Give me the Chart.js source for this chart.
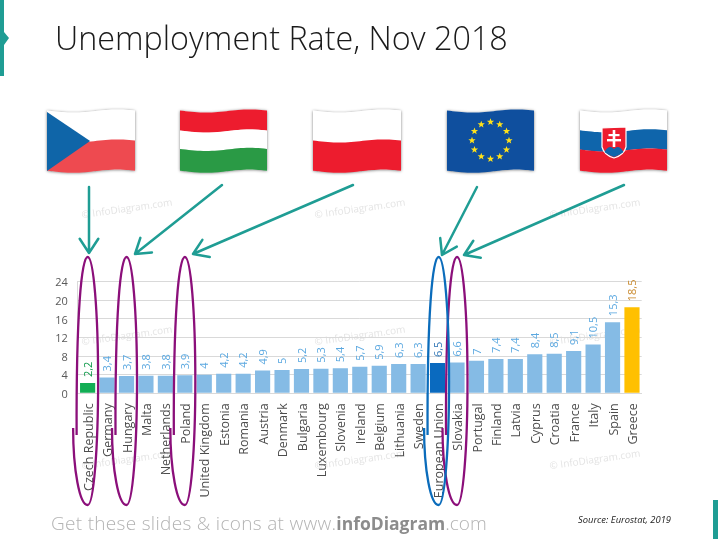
<!DOCTYPE html>
<html>
<head>
    <meta charset="UTF-8">
    <title>Unemployment Rate, Nov 2018</title>
    <style>
        html, body { margin: 0; padding: 0; background: #fff; }
        canvas { display: block; }
    </style>
    <script src="https://cdnjs.cloudflare.com/ajax/libs/Chart.js/4.4.1/chart.umd.min.js"></script>
</head>
<body>
    <canvas id="chart" width="718" height="539"></canvas>

    <script>
        const countries = ['Czech Republic', 'Germany', 'Hungary', 'Malta', 'Netherlands', 'Poland',
            'United Kingdom', 'Estonia', 'Romania', 'Austria', 'Denmark', 'Bulgaria', 'Luxembourg',
            'Slovenia', 'Ireland', 'Belgium', 'Lithuania', 'Sweden', 'European Union', 'Slovakia',
            'Portugal', 'Finland', 'Latvia', 'Cyprus', 'Croatia', 'France', 'Italy', 'Spain', 'Greece'];
        const rates = [2.2, 3.4, 3.7, 3.8, 3.8, 3.9, 4, 4.2, 4.2, 4.9, 5, 5.2, 5.3, 5.4, 5.7, 5.9,
            6.3, 6.3, 6.5, 6.6, 7, 7.4, 7.4, 8.4, 8.5, 9.1, 10.5, 15.3, 18.5];
        const yTicks = [0, 4, 8, 12, 16, 20, 24];

        const TEAL = '#1f9d94';
        const PURPLE = '#8b0f7a';
        const EU_BLUE = '#0b6cbb';

        function barColor(name) {
            if (name === 'Czech Republic') return '#12ad54';
            if (name === 'European Union') return '#0a6abf';
            if (name === 'Greece') return '#ffc000';
            return '#85bbe5';
        }
        function labelColor(name) {
            if (name === 'Czech Republic') return '#0f9a4a';
            if (name === 'European Union') return '#2f75b5';
            if (name === 'Greece') return '#c98a2e';
            return '#5ba8e0';
        }

        // flag helpers - each flag is a set of bands on a wavy sheet
        function waveY(t) {
            return 1.6 * Math.sin(t * Math.PI * 2 - 0.31);
        }
        function sheetPath(ctx, x, y, w, h, v0, v1) {
            ctx.beginPath();
            for (let i = 0; i <= 30; i++) {
                const t = i / 30;
                ctx.lineTo(x + t * w, y + v0 * h + waveY(t));
            }
            for (let i = 30; i >= 0; i--) {
                const t = i / 30;
                ctx.lineTo(x + t * w, y + v1 * h + waveY(t));
            }
            ctx.closePath();
        }
        function drawBands(ctx, f, bands) {
            bands.forEach(function (b) {
                ctx.fillStyle = b[2];
                sheetPath(ctx, f.x, f.y, f.w, f.h, b[0], b[1] + 0.003);
                ctx.fill();
            });
        }
        function flagShadow(ctx, f) {
            ctx.save();
            ctx.shadowColor = 'rgba(0,0,0,0.55)';
            ctx.shadowBlur = 3;
            ctx.shadowOffsetY = 0.5;
            ctx.fillStyle = '#fff';
            sheetPath(ctx, f.x, f.y, f.w, f.h, 0, 1);
            ctx.fill();
            ctx.restore();
        }
        function star(ctx, cx, cy, r) {
            ctx.beginPath();
            for (let i = 0; i < 10; i++) {
                const rr = i % 2 ? r * 0.42 : r;
                const a = -Math.PI / 2 + i * Math.PI / 5;
                ctx.lineTo(cx + rr * Math.cos(a), cy + rr * Math.sin(a));
            }
            ctx.closePath();
            ctx.fill();
        }

        function drawCzech(ctx, f) {
            flagShadow(ctx, f);
            drawBands(ctx, f, [[0, 0.5, '#ffffff'], [0.5, 1, '#ee4a50']]);
            ctx.fillStyle = '#0f65a8';
            ctx.beginPath();
            ctx.moveTo(f.x, f.y + 1);
            ctx.lineTo(f.x + f.w * 0.49, f.y + f.h * 0.5);
            ctx.lineTo(f.x, f.y + f.h);
            ctx.closePath();
            ctx.fill();
        }
        function drawHungary(ctx, f) {
            flagShadow(ctx, f);
            drawBands(ctx, f, [[0, 0.333, '#ed1c2e'], [0.333, 0.64, '#ffffff'], [0.64, 1, '#2a9a45']]);
        }
        function drawPoland(ctx, f) {
            flagShadow(ctx, f);
            drawBands(ctx, f, [[0, 0.5, '#ffffff'], [0.5, 1, '#ed1c2e']]);
        }
        function drawEU(ctx, f) {
            flagShadow(ctx, f);
            drawBands(ctx, f, [[0, 1, '#0f4f9e']]);
            ctx.fillStyle = '#ffe11a';
            const cx = f.x + f.w * 0.5, cy = f.y + f.h * 0.5;
            for (let i = 0; i < 12; i++) {
                const a = i * Math.PI / 6;
                star(ctx, cx + 18.5 * Math.sin(a), cy - 0.5 - 18.5 * Math.cos(a), 3.8);
            }
        }
        function drawSlovakia(ctx, f) {
            flagShadow(ctx, f);
            drawBands(ctx, f, [[0, 0.33, '#ffffff'], [0.33, 0.65, '#0f65ab'], [0.65, 1, '#ed1c2e']]);
            // coat of arms
            const sx = f.x + 22, sy = f.y + 16;
            ctx.beginPath();
            ctx.moveTo(sx, sy + 1);
            ctx.lineTo(sx + 24, sy);
            ctx.lineTo(sx + 24, sy + 20);
            ctx.quadraticCurveTo(sx + 22, sy + 28, sx + 12, sy + 31);
            ctx.quadraticCurveTo(sx + 2, sy + 28, sx, sy + 20);
            ctx.closePath();
            ctx.fillStyle = '#ed1c2e';
            ctx.fill();
            ctx.strokeStyle = '#ffffff';
            ctx.lineWidth = 1.2;
            ctx.stroke();
            ctx.fillStyle = '#ffffff';
            ctx.fillRect(sx + 10.7, sy + 3, 2.6, 17);
            ctx.fillRect(sx + 6.5, sy + 7, 11, 2.2);
            ctx.fillRect(sx + 5, sy + 12, 14, 2.4);
            ctx.fillStyle = '#0f65ab';
            ctx.beginPath();
            ctx.moveTo(sx + 2.5, sy + 25);
            ctx.quadraticCurveTo(sx + 7, sy + 17, sx + 12, sy + 22);
            ctx.quadraticCurveTo(sx + 17, sy + 17, sx + 21.5, sy + 25);
            ctx.quadraticCurveTo(sx + 18, sy + 28, sx + 12, sy + 30);
            ctx.quadraticCurveTo(sx + 6, sy + 28, sx + 2.5, sy + 25);
            ctx.fill();
        }

        function arrow(ctx, x0, y0, x1, y1) {
            const a = Math.atan2(y1 - y0, x1 - x0);
            ctx.strokeStyle = TEAL;
            ctx.lineWidth = 2.5;
            ctx.lineCap = 'round';
            ctx.lineJoin = 'round';
            ctx.beginPath();
            ctx.moveTo(x0, y0);
            ctx.lineTo(x1, y1);
            ctx.moveTo(x1 - 17 * Math.cos(a - 0.58), y1 - 17 * Math.sin(a - 0.58));
            ctx.lineTo(x1, y1);
            ctx.lineTo(x1 - 17 * Math.cos(a + 0.58), y1 - 17 * Math.sin(a + 0.58));
            ctx.stroke();
        }

        // hand drawn loop round a category label, open on the left side
        function loop(ctx, cx, color) {
            const top = 257, bottom = 505, mid = 381, rx = 10.5;
            ctx.strokeStyle = color;
            ctx.lineWidth = 2.3;
            ctx.lineCap = 'butt';
            ctx.beginPath();
            ctx.moveTo(cx - rx - 0.5, 435);
            ctx.bezierCurveTo(cx - rx - 1, 313, cx - 6, top, cx, top);
            ctx.bezierCurveTo(cx + 6, top, cx + rx, 313, cx + rx, mid);
            ctx.bezierCurveTo(cx + rx, 449, cx + 6, bottom, cx, bottom);
            ctx.bezierCurveTo(cx - 8, bottom, cx - rx - 4, 470, cx - rx - 4, 428);
            ctx.stroke();
        }

        const decorPlugin = {
            id: 'decor',
            beforeDraw(chart) {
                const ctx = chart.ctx;
                ctx.save();
                ctx.fillStyle = '#fff';
                ctx.fillRect(0, 0, 718, 539);
                // slide corner marks
                ctx.fillStyle = TEAL;
                ctx.beginPath();
                ctx.moveTo(0, 0);
                ctx.lineTo(4, 0);
                ctx.lineTo(4, 32);
                ctx.lineTo(9, 38);
                ctx.lineTo(4, 45);
                ctx.lineTo(4, 76);
                ctx.lineTo(0, 76);
                ctx.closePath();
                ctx.fill();
                ctx.fillRect(713, 500, 5, 39);

                // watermarks
                ctx.font = '10px "Open Sans"';
                ctx.fillStyle = '#e4e4e4';
                ctx.textAlign = 'center';
                ctx.textBaseline = 'middle';
                [[127, 209], [360, 209], [595, 209], [127, 336], [360, 336], [595, 336], [127, 460], [360, 460], [595, 460]].forEach(function (p) {
                    ctx.save();
                    ctx.translate(p[0], p[1]);
                    ctx.rotate(-0.14);
                    ctx.fillText('© InfoDiagram.com', 0, 0);
                    ctx.restore();
                });

                // title
                ctx.textAlign = 'left';
                ctx.textBaseline = 'alphabetic';
                ctx.fillStyle = '#1a1a1a';
                ctx.font = '300 32.3px "Open Sans"';
                ctx.fillText('Unemployment Rate, Nov 2018', 55, 50);

                // footer
                ctx.fillStyle = '#b3b3b3';
                ctx.font = '300 19px "Open Sans"';
                ctx.letterSpacing = '0.3px';
                let fx = 51;
                const p1 = 'Get these slides & icons at www.';
                ctx.fillText(p1, fx, 530);
                fx += ctx.measureText(p1).width;
                ctx.letterSpacing = '0px';
                ctx.fillStyle = '#8c8c8c';
                ctx.font = '700 17.5px "Open Sans"';
                ctx.fillText('infoDiagram', fx, 530);
                fx += ctx.measureText('infoDiagram').width;
                ctx.fillStyle = '#b3b3b3';
                ctx.font = '300 19px "Open Sans"';
                ctx.fillText('.com', fx, 530);

                ctx.fillStyle = '#222';
                ctx.font = 'italic 9.4px "Open Sans"';
                ctx.fillText('Source: Eurostat, 2019', 578, 523);

                // flags
                drawCzech(ctx, { x: 47, y: 111, w: 88, h: 60 });
                drawHungary(ctx, { x: 180, y: 111, w: 87, h: 60 });
                drawPoland(ctx, { x: 313, y: 111, w: 88, h: 60 });
                drawEU(ctx, { x: 447, y: 111, w: 87, h: 60 });
                drawSlovakia(ctx, { x: 580, y: 111, w: 87, h: 60 });
                ctx.restore();
            },
            afterDatasetsDraw(chart) {
                const ctx = chart.ctx;
                const meta = chart.getDatasetMeta(0);
                ctx.save();
                ctx.font = '11px "Open Sans"';
                ctx.textAlign = 'left';
                ctx.textBaseline = 'middle';
                meta.data.forEach(function (bar, i) {
                    ctx.save();
                    ctx.translate(bar.x + 1, bar.y - 6);
                    ctx.rotate(-Math.PI / 2);
                    ctx.fillStyle = labelColor(countries[i]);
                    ctx.fillText(String(rates[i]).replace('.', ','), 0, 0);
                    ctx.restore();
                });
                ctx.restore();
            },
            afterDraw(chart) {
                const ctx = chart.ctx;
                const x = chart.scales.x;
                ctx.save();
                ['Czech Republic', 'Hungary', 'Poland', 'Slovakia'].forEach(function (name) {
                    loop(ctx, x.getPixelForValue(countries.indexOf(name)), PURPLE);
                });
                loop(ctx, x.getPixelForValue(countries.indexOf('European Union')) + 1, EU_BLUE);
                arrow(ctx, 89, 187, 89, 253);
                arrow(ctx, 222, 185, 135, 254);
                arrow(ctx, 353, 185, 193, 254);
                arrow(ctx, 477, 187, 442, 255);
                arrow(ctx, 624, 185, 464, 255);
                ctx.restore();
            }
        };

        new Chart(document.getElementById('chart').getContext('2d'), {
            type: 'bar',
            data: {
                labels: countries,
                datasets: [{
                    data: rates,
                    backgroundColor: countries.map(barColor),
                    barPercentage: 1,
                    categoryPercentage: 0.78
                }]
            },
            plugins: [decorPlugin],
            options: {
                responsive: false,
                animation: false,
                devicePixelRatio: 1,
                layout: { padding: { top: 281.7, left: 0, right: 76.3, bottom: 0 } },
                plugins: { legend: { display: false }, title: { display: false }, tooltip: { enabled: false } },
                scales: {
                    x: {
                        afterFit(scale) { scale.height = 145.7; },
                        grid: { display: false },
                        border: { color: '#d9d9d9' },
                        ticks: {
                            autoSkip: false,
                            minRotation: 90,
                            maxRotation: 90,
                            padding: 2,
                            labelOffset: 1.5,
                            color: '#4d4d4d',
                            font: { family: '"Open Sans"', size: 12.5 }
                        }
                    },
                    y: {
                        min: 0,
                        max: 24,
                        afterFit(scale) { scale.width = 77.9; },
                        afterBuildTicks(scale) { scale.ticks = yTicks.map(v => ({ value: v })); },
                        grid: { color: '#d9d9d9', drawTicks: false },
                        border: { color: '#d9d9d9' },
                        ticks: {
                            padding: 10,
                            labelOffset: 1.5,
                            color: '#595959',
                            font: { family: '"Open Sans"', size: 11 }
                        }
                    }
                }
            }
        });
    </script>
</body>
</html>
